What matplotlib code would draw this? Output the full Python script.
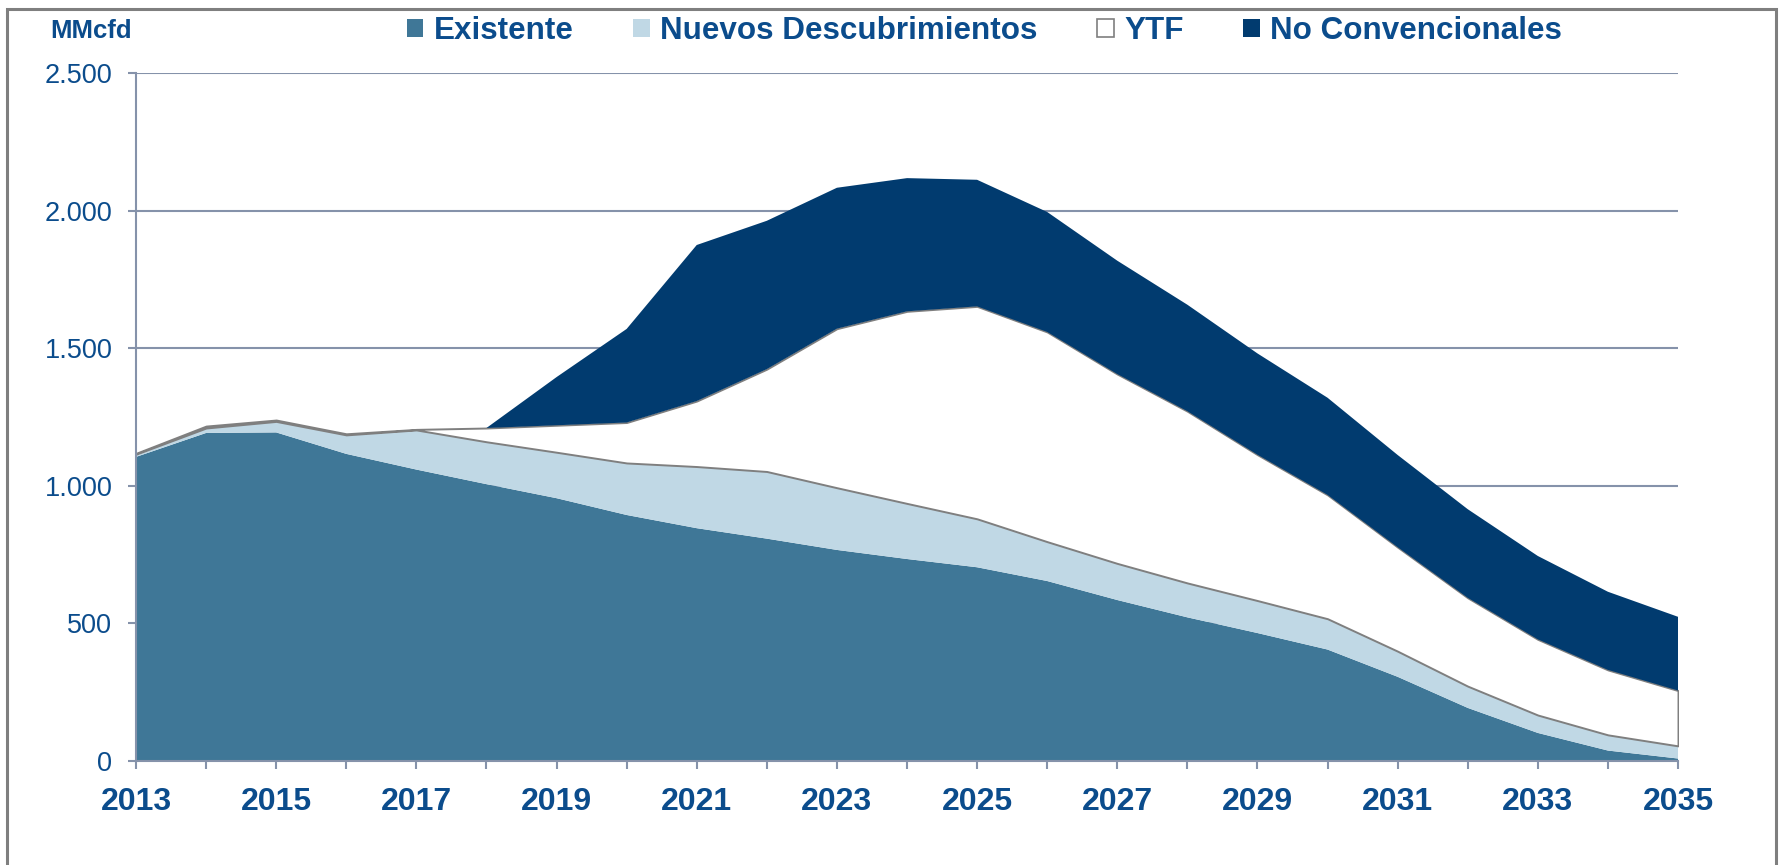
import numpy as np
import matplotlib.pyplot as plt
from matplotlib.patches import Patch, Rectangle
from matplotlib.ticker import FuncFormatter

# Colours
TEXT = '#0B4C8C'
GRID = '#8592AA'
C_EXIST = '#3F7797'
C_NUEVOS = '#C0D8E5'
C_YTF = '#FFFFFF'
C_NOCONV = '#013B6F'

plt.rcParams['font.family'] = ['Liberation Sans', 'DejaVu Sans']

# Data (MMcfd)
years = list(range(2013, 2036))
existente = [1105, 1192, 1194, 1116, 1059, 1006, 955, 894, 846, 808, 767, 734,
             704, 654, 585, 522, 465, 405, 306, 193, 102, 38, 9]
nuevos = [10, 18, 40, 69, 144, 154, 167, 189, 224, 244, 226, 202,
          176, 143, 133, 125, 118, 112, 93, 79, 65, 57, 46]
ytf = [3, 7, 5, 4, 2, 50, 98, 147, 238, 372, 578, 698,
       772, 762, 688, 624, 530, 450, 378, 321, 275, 236, 201]
no_conv = [0, 0, 0, 0, 0, 0, 175, 340, 567, 539, 512, 484,
           460, 436, 412, 387, 368, 353, 335, 322, 303, 284, 268]
labels = ['Existente', 'Nuevos Descubrimientos', 'YTF', 'No Convencionales']

fig = plt.figure(figsize=(17.81, 8.65), dpi=100)
ax = fig.add_axes([136 / 1781, 104 / 865, 1542 / 1781, 688 / 865])

polys = ax.stackplot(years, existente, nuevos, ytf, no_conv,
                     colors=[C_EXIST, C_NUEVOS, C_YTF, C_NOCONV], zorder=2)
for p in polys:
    p.set_linewidth(0)
polys[2].set_edgecolor('#7F7F7F')
polys[2].set_linewidth(1.4)

ax.set_xlim(2013, 2035)
ax.set_ylim(0, 2500)
ax.set_yticks(np.arange(0, 2501, 500))
ax.yaxis.set_major_formatter(FuncFormatter(lambda v, _: f'{v:,.0f}'.replace(',', '.')))
ax.set_xticks(years)
ax.set_xticklabels([str(y) if y % 2 == 1 else '' for y in years])

ax.set_axisbelow(True)
ax.grid(axis='y', color=GRID, linewidth=1.5)
for side in ['top', 'right']:
    ax.spines[side].set_visible(False)
for side in ['left', 'bottom']:
    ax.spines[side].set_color(GRID)
    ax.spines[side].set_linewidth(1.5)
    ax.spines[side].set_zorder(3)

ax.tick_params(axis='y', length=6, width=1.5, color=GRID, pad=11,
               labelsize=19.5, labelcolor=TEXT)
ax.tick_params(axis='x', length=6, width=1.5, color=GRID, pad=13,
               labelsize=23, labelcolor=TEXT)
for t in ax.get_xticklabels():
    t.set_fontweight('bold')

# Unit label and legend
fig.text(50 / 1781, 1 - 31 / 865, 'MMcfd', ha='left', va='center',
         fontsize=18.5, fontweight='bold', color=TEXT)

handles = [Patch(facecolor=C_EXIST, edgecolor='none'),
           Patch(facecolor=C_NUEVOS, edgecolor='none'),
           Patch(facecolor=C_YTF, edgecolor='#7F7F7F', linewidth=1.2),
           Patch(facecolor=C_NOCONV, edgecolor='none')]
leg = fig.legend(handles, labels, loc='center', bbox_to_anchor=(0.5528, 1 - 31 / 865),
                 ncol=4, frameon=False, borderpad=0, handlelength=0.53,
                 handleheight=0.53, handletextpad=0.33, columnspacing=1.9,
                 prop={'size': 22.6, 'weight': 'bold'})
for t in leg.get_texts():
    t.set_color(TEXT)

# Outer frame
fig.add_artist(Rectangle((0.004, -0.1), 0.993, 1.09, transform=fig.transFigure,
                         fill=False, edgecolor='#7F7F7F', linewidth=2.2))

fig.savefig('out.png', dpi=100)
